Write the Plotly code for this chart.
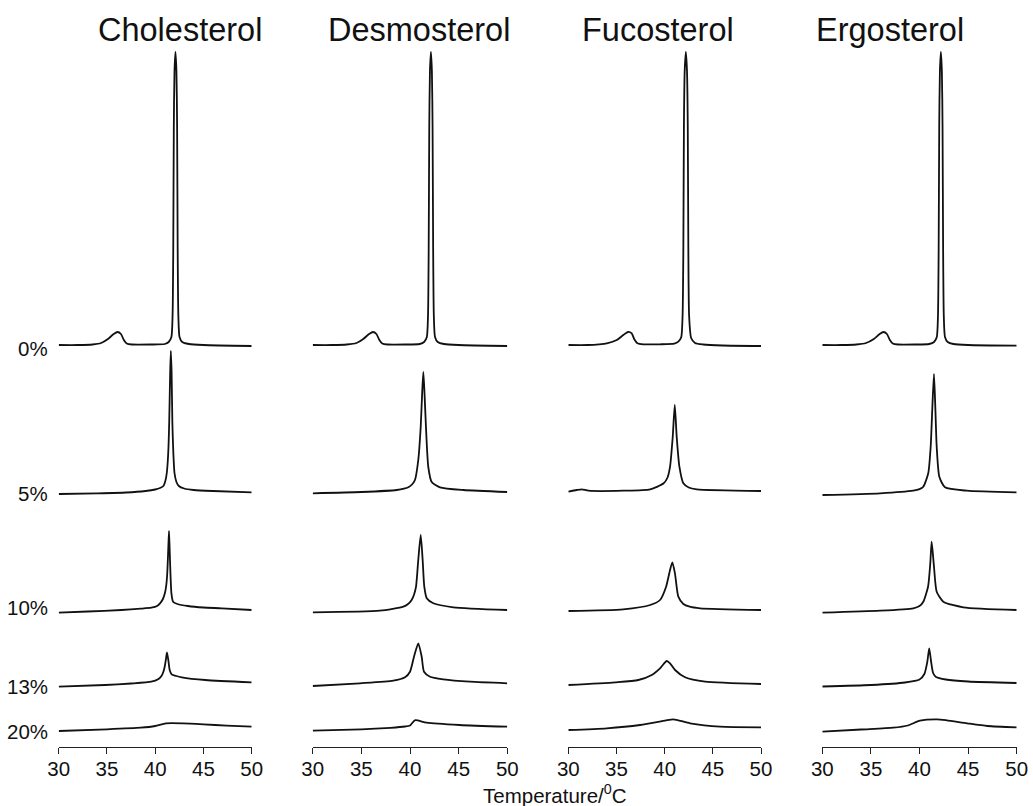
import plotly.graph_objects as go

# ---------------- DATA (temperature in degC, excess heat flow in arbitrary units) ----------------
sterols = ["Cholesterol", "Desmosterol", "Fucosterol", "Ergosterol"]
concentrations = ["0%", "5%", "10%", "13%", "20%"]
tick_values = [30, 35, 40, 45, 50]

# Cholesterol
chol_0_T = [30, 32, 33.5, 34.4, 35.1, 35.7, 36.1, 36.45, 36.75, 37.05, 37.6, 39.5, 41, 41.4, 41.68, 41.8, 41.87, 41.93, 42.0, 42.1, 42.2, 42.27, 42.33, 42.4, 42.52, 42.8, 43.5, 45, 50]
chol_0_H = [1, 1, 1.5, 3, 7, 12, 14, 12, 6, 2.5, 1.5, 1.5, 2, 4, 9, 30, 96, 220, 275, 294, 275, 220, 96, 30, 9, 4, 2, 1, 0]
chol_5_T = [30, 34, 37, 39, 40, 40.5, 40.85, 41.05, 41.2, 41.35, 41.45, 41.55, 41.62, 41.7, 41.78, 41.88, 42.0, 42.2, 42.45, 43, 44, 46, 50]
chol_5_H = [-1, -0.3, 0.5, 2, 3.5, 5, 7, 12, 20, 40, 70, 120, 142, 120, 70, 40, 20, 11, 7, 4.5, 3, 2, 0.7]
chol_10_T = [30, 33, 36.5, 38.5, 39.6, 40.2, 40.5, 40.8, 41.0, 41.15, 41.25, 41.35, 41.43, 41.5, 41.58, 41.68, 41.85, 42.3, 43.4, 45, 46.9, 50]
chol_10_H = [-0.7, 0.5, 2, 3.3, 4.3, 6, 8.7, 13, 18.7, 27, 38.7, 62, 81, 62, 38.7, 18.7, 10.3, 8, 6, 4.5, 3.7, 2]
chol_13_T = [30, 34.8, 37.5, 39.6, 40.3, 40.65, 40.85, 41.0, 41.1, 41.22, 41.36, 41.5, 41.7, 42.2, 42.75, 45.2, 50]
chol_13_H = [-0.7, 1, 2.5, 4.3, 6.7, 10, 14.3, 20, 26, 33.7, 26, 16, 11.7, 10, 8.7, 6, 3.7]
chol_20_T = [30, 35, 38.5, 40, 41.1, 42.9, 45, 47.4, 50]
chol_20_H = [0, 1.7, 3.3, 5, 7.7, 7.7, 6.7, 5.3, 4.3]

# Desmosterol
desm_0_T = [30, 32, 33.5, 34.5, 35.2, 35.8, 36.2, 36.55, 36.85, 37.15, 37.7, 39.5, 41, 41.45, 41.73, 41.85, 41.92, 41.98, 42.05, 42.15, 42.25, 42.32, 42.38, 42.45, 42.57, 42.85, 43.5, 45, 50]
desm_0_H = [1, 1, 1.5, 3, 7, 12, 14, 12, 6, 2.5, 1.5, 1.5, 2, 4, 9, 30, 96, 220, 275, 294, 275, 220, 96, 30, 9, 4, 2, 1, 0]
desm_5_T = [30, 35, 38.63, 39.83, 40.2, 40.51, 40.85, 41.1, 41.25, 41.37, 41.49, 41.64, 41.88, 42.23, 43.08, 45.48, 50]
desm_5_H = [-0.3, 1, 3, 5.7, 8.5, 13, 33, 66, 100, 121, 100, 66, 26, 11, 5.7, 3, 1]
desm_10_T = [30, 36.9, 39.31, 39.8, 40.17, 40.42, 40.62, 40.85, 41.1, 41.3, 41.47, 41.72, 42.4, 44.45, 50]
desm_10_H = [-0.3, 1.3, 5.3, 8, 12, 17.5, 25.3, 52, 77, 52, 25.3, 13.7, 8.7, 4.7, 2]
desm_13_T = [30, 34.86, 38.28, 39.49, 40.0, 40.41, 40.85, 41.2, 41.44, 42.06, 43.42, 46.17, 50]
desm_13_H = [0, 2.7, 5.3, 8.7, 14.3, 29.3, 42.7, 29.3, 14.3, 9.3, 6.7, 4.3, 2.7]
desm_20_T = [30, 35, 38, 39.5, 40, 40.5, 41.7, 45.1, 50]
desm_20_H = [0.3, 1.7, 3.2, 4.5, 5.5, 10.7, 8.3, 6, 4.3]

# Fucosterol
fuco_0_T = [30, 32, 33.2, 34.0, 35.03, 35.71, 36.2, 36.58, 36.85, 37.17, 37.8, 39.5, 41, 41.42, 41.72, 41.86, 41.94, 42.0, 42.08, 42.2, 42.32, 42.4, 42.46, 42.54, 42.75, 43.15, 44, 46, 50]
fuco_0_H = [1, 1, 1.7, 2.7, 6, 11, 14, 12.7, 6.7, 2.7, 1.7, 1.7, 2.3, 4.3, 8.7, 30, 96, 220, 275, 294, 275, 220, 96, 30, 8, 3, 1.5, 0.5, 0]
fuco_5_T = [30, 30.87, 31.4, 32.1, 35.7, 38.5, 39.9, 40.3, 40.56, 40.84, 41.05, 41.25, 41.53, 41.94, 42.5, 43.33, 50]
fuco_5_H = [1.3, 3, 3.7, 2.3, 2.3, 3.7, 9.7, 15.5, 26.3, 56.3, 88, 56.3, 26.3, 9.7, 5.5, 3.7, 2]
fuco_10_T = [30, 35.7, 38.5, 39.52, 40.15, 40.56, 40.8, 41.07, 41.42, 41.94, 42.6, 43.68, 50]
fuco_10_H = [1, 2.7, 7, 12, 25.3, 42, 49.7, 38.7, 15.3, 8, 5.3, 3.7, 2]
fuco_13_T = [30, 34.85, 37.27, 38.66, 39.52, 40.22, 40.56, 41.08, 42.12, 44.2, 50]
fuco_13_H = [1, 3.7, 6, 11, 17.7, 25, 22.7, 16, 8.7, 4.3, 2]
fuco_20_T = [30, 33.99, 37.45, 40.04, 40.9, 42.64, 45.75, 50]
fuco_20_H = [1, 2.7, 6, 10.3, 11.7, 7.7, 4.3, 3.7]

# Ergosterol
ergo_0_T = [30, 32, 33.5, 34.5, 35.3, 35.9, 36.3, 36.65, 36.95, 37.25, 37.8, 39.5, 41, 41.5, 41.78, 41.9, 41.97, 42.03, 42.1, 42.2, 42.3, 42.37, 42.43, 42.5, 42.62, 42.9, 43.5, 45, 50]
ergo_0_H = [1, 1, 1.5, 3, 7, 12, 14, 12, 6, 2.5, 1.5, 1.5, 2, 4, 9, 30, 96, 220, 275, 294, 275, 220, 96, 30, 9, 4, 2, 1, 0.3]
ergo_5_T = [30, 35.94, 39.36, 40.0, 40.39, 40.9, 41.15, 41.32, 41.49, 41.63, 41.77, 42.04, 42.62, 44.86, 50]
ergo_5_H = [-2, -0.3, 2.3, 3.8, 6.3, 19.7, 46.3, 85, 119, 85, 46.3, 16.3, 5.7, 2.3, 0.7]
ergo_10_T = [30, 35.94, 39.36, 40.0, 40.39, 40.88, 41.11, 41.25, 41.49, 41.77, 42.45, 44.51, 50]
ergo_10_H = [-0.7, 1.3, 3.7, 6, 10.3, 25.3, 48.7, 70.3, 45.3, 20.3, 10.3, 4.7, 2]
ergo_13_T = [30, 35, 38.5, 40, 40.5, 40.8, 41.0, 41.2, 41.4, 41.7, 42.7, 45, 50]
ergo_13_H = [-0.5, 1, 3.5, 6.5, 12, 24, 37.7, 24, 13, 9, 6.5, 4.5, 3]
ergo_20_T = [30, 34, 37.3, 38.8, 40.05, 41.8, 42.8, 44.9, 47, 50]
ergo_20_H = [-0.7, 1.5, 3.3, 5.5, 10.3, 11.7, 10.7, 7.7, 5, 3.7]

curves = {
    "Cholesterol": [(chol_0_T, chol_0_H), (chol_5_T, chol_5_H), (chol_10_T, chol_10_H), (chol_13_T, chol_13_H), (chol_20_T, chol_20_H)],
    "Desmosterol": [(desm_0_T, desm_0_H), (desm_5_T, desm_5_H), (desm_10_T, desm_10_H), (desm_13_T, desm_13_H), (desm_20_T, desm_20_H)],
    "Fucosterol": [(fuco_0_T, fuco_0_H), (fuco_5_T, fuco_5_H), (fuco_10_T, fuco_10_H), (fuco_13_T, fuco_13_H), (fuco_20_T, fuco_20_H)],
    "Ergosterol": [(ergo_0_T, ergo_0_H), (ergo_5_T, ergo_5_H), (ergo_10_T, ergo_10_H), (ergo_13_T, ergo_13_H), (ergo_20_T, ergo_20_H)],
}

# ---------------- LAYOUT CONSTANTS ----------------
W, H = 1033, 806
FONT = "Liberation Sans, Arial, sans-serif"
row_baseline_px = [346, 493, 612, 686, 731]      # vertical stacking of thermograms (px from top)
row_label_px = [348, 493, 607, 686, 731]
col_domains_px = [(58.7, 251.7), (312.7, 507.3), (568.3, 761.0), (822.3, 1016.7)]
title_x_px = [180, 419, 658, 890]
axis_line_px = 747

fig = go.Figure()

for ci, sterol in enumerate(sterols):
    xa = "x" if ci == 0 else f"x{ci + 1}"
    for ri, (T, Hs) in enumerate(curves[sterol]):
        offset = H - row_baseline_px[ri]
        fig.add_trace(go.Scatter(
            x=T, y=[offset + h for h in Hs], mode="lines",
            line=dict(color="#111111", width=1.8, shape="spline", smoothing=0.6),
            xaxis=xa, yaxis="y", showlegend=False, hoverinfo="skip"))

axis_common = dict(
    range=[30, 50], tickvals=tick_values, ticks="outside", ticklen=6, tickwidth=1.3,
    tickcolor="#222222", showline=True, linecolor="#222222", linewidth=1.3,
    showgrid=False, zeroline=False, anchor="free", position=(H - axis_line_px) / H,
    tickfont=dict(family=FONT, size=20.5, color="#111111"), fixedrange=True, automargin=False,
    ticklabelstandoff=-3,
)
layout_axes = {}
for ci, (a, b) in enumerate(col_domains_px):
    key = "xaxis" if ci == 0 else f"xaxis{ci + 1}"
    layout_axes[key] = dict(axis_common, domain=[a / W, b / W])

annotations = []
for ci, sterol in enumerate(sterols):
    annotations.append(dict(text=sterol, x=title_x_px[ci] / W, y=1 - 30 / H, xref="paper", yref="paper",
                            showarrow=False, xanchor="center", yanchor="middle",
                            font=dict(family=FONT, size=32.5, color="#111111")))
for ri, lab in enumerate(concentrations):
    annotations.append(dict(text=lab, x=49.5 / W, y=1 - row_label_px[ri] / H, xref="paper", yref="paper",
                            showarrow=False, xanchor="right", yanchor="middle",
                            font=dict(family=FONT, size=20.5, color="#111111")))
annotations.append(dict(text="Temperature/<sup>0</sup>C", x=555 / W, y=1 - 794 / H, xref="paper", yref="paper",
                        showarrow=False, xanchor="center", yanchor="middle",
                        font=dict(family=FONT, size=20.5, color="#111111")))

fig.update_layout(
    width=W, height=H, margin=dict(l=0, r=0, t=0, b=0, pad=0, autoexpand=False),
    paper_bgcolor="white", plot_bgcolor="white",
    yaxis=dict(range=[0, H], domain=[0, 1], visible=False, fixedrange=True),
    annotations=annotations, showlegend=False,
    **layout_axes,
)

fig.write_html("out.html")
